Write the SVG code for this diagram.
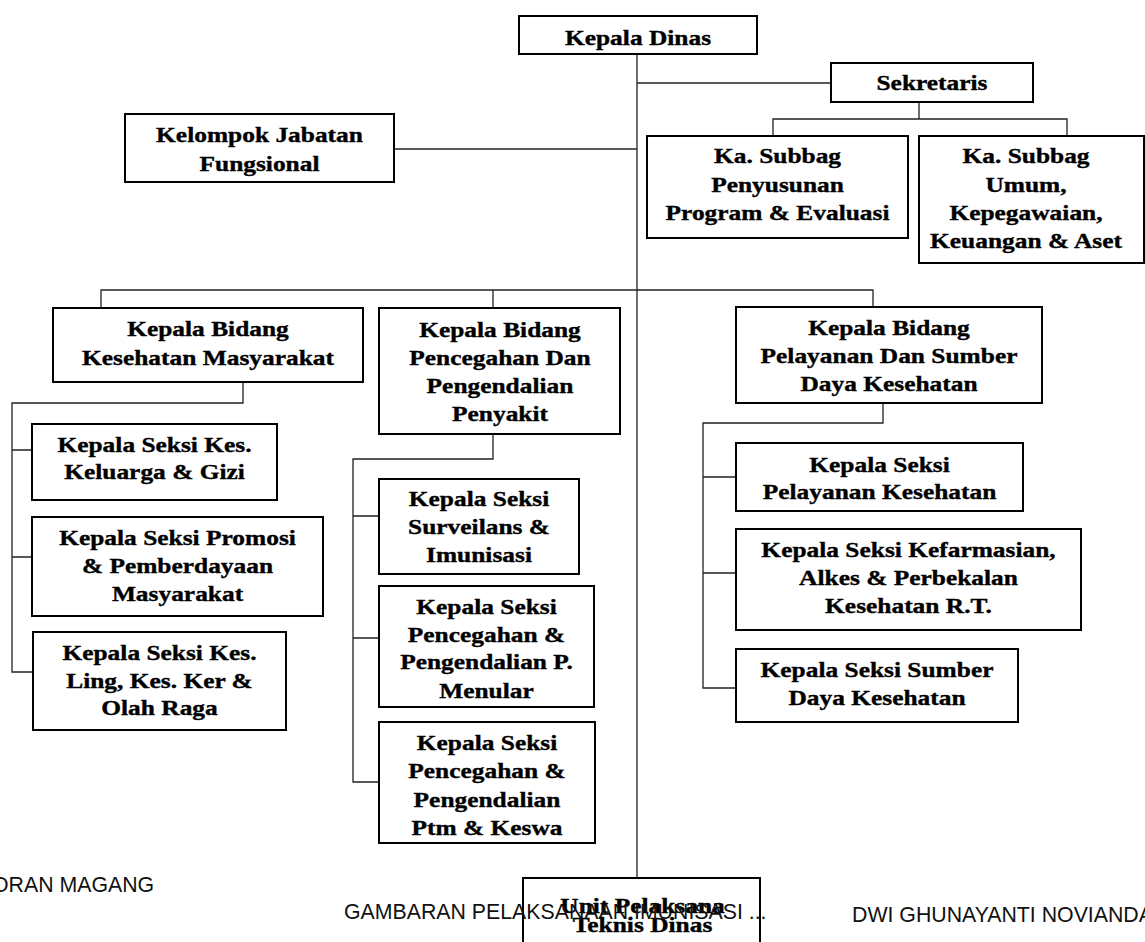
<svg xmlns="http://www.w3.org/2000/svg" width="1145" height="942" viewBox="0 0 1145 942">
<style>
.box{fill:#fff;stroke:#000;stroke-width:2}
.ln{fill:none;stroke:#222;stroke-width:1.3}
.t{font-family:"Liberation Serif","Times New Roman",serif;font-weight:bold;font-size:20.5px;fill:#000;stroke:#000;stroke-width:0.35;text-anchor:middle}
.f{font-family:"Liberation Sans",Arial,sans-serif;font-size:21.3px;fill:#111}
</style>
<rect width="1145" height="942" fill="#fff"/>
<g id="connectors">
<path class="ln" d="M637,54 V878"/>
<path class="ln" d="M637,83 H831"/>
<path class="ln" d="M919,102 V119 M773,136 V119 H1067 V136"/>
<path class="ln" d="M394,149 H637"/>
<path class="ln" d="M101,308 V290 H873 V307 M493,290 V308"/>
<path class="ln" d="M243,382 V403 H12 V672 H33 M12,450 H32 M12,557 H32"/>
<path class="ln" d="M493,434 V459 H353 V782 H379 M353,516 H379 M353,638 H382"/>
<path class="ln" d="M883,403 V423 H703 V688 H736 M703,477 H736 M703,573 H736"/>
</g>
<g id="kepala-dinas">
<rect class="box" x="519" y="16" width="238" height="38"/>
<text class="t" transform="translate(638 0) scale(1.24 1)"><tspan x="0" y="45">Kepala Dinas</tspan></text>
</g>
<g id="sekretaris">
<rect class="box" x="831" y="63" width="202" height="39"/>
<text class="t" transform="translate(932 0) scale(1.24 1)"><tspan x="0" y="90">Sekretaris</tspan></text>
</g>
<g id="kelompok-jabatan">
<rect class="box" x="125" y="114" width="269" height="68"/>
<text class="t" transform="translate(259.5 0) scale(1.24 1)"><tspan x="0" y="141.7">Kelompok Jabatan</tspan><tspan x="0" y="170.7">Fungsional</tspan></text>
</g>
<g id="subbag-penyusunan">
<rect class="box" x="647" y="136" width="261" height="102"/>
<text class="t" transform="translate(777.5 0) scale(1.24 1)"><tspan x="0" y="163.3">Ka. Subbag</tspan><tspan x="0" y="191.7">Penyusunan</tspan><tspan x="0" y="220">Program &amp; Evaluasi</tspan></text>
</g>
<g id="subbag-umum">
<rect class="box" x="919" y="136" width="225" height="127"/>
<text class="t" transform="translate(1026 0) scale(1.24 1)"><tspan x="0" y="163.3">Ka. Subbag</tspan><tspan x="0" y="191.7">Umum,</tspan><tspan x="0" y="220">Kepegawaian,</tspan><tspan x="0" y="248">Keuangan &amp; Aset</tspan></text>
</g>
<g id="bidang-kesmas">
<rect class="box" x="53" y="308" width="310" height="74"/>
<text class="t" transform="translate(208 0) scale(1.24 1)"><tspan x="0" y="336">Kepala Bidang</tspan><tspan x="0" y="365">Kesehatan Masyarakat</tspan></text>
</g>
<g id="bidang-p2p">
<rect class="box" x="379" y="308" width="241" height="126"/>
<text class="t" transform="translate(500 0) scale(1.24 1)"><tspan x="0" y="337">Kepala Bidang</tspan><tspan x="0" y="365">Pencegahan Dan</tspan><tspan x="0" y="393">Pengendalian</tspan><tspan x="0" y="421.5">Penyakit</tspan></text>
</g>
<g id="bidang-pelayanan">
<rect class="box" x="736" y="307" width="306" height="96"/>
<text class="t" transform="translate(889 0) scale(1.24 1)"><tspan x="0" y="335">Kepala Bidang</tspan><tspan x="0" y="363">Pelayanan Dan Sumber</tspan><tspan x="0" y="391">Daya Kesehatan</tspan></text>
</g>
<g id="seksi-keluarga-gizi">
<rect class="box" x="32" y="424" width="245" height="76"/>
<text class="t" transform="translate(154.5 0) scale(1.24 1)"><tspan x="0" y="451.7">Kepala Seksi Kes.</tspan><tspan x="0" y="479">Keluarga &amp; Gizi</tspan></text>
</g>
<g id="seksi-promosi">
<rect class="box" x="32" y="517" width="291" height="99"/>
<text class="t" transform="translate(177.5 0) scale(1.24 1)"><tspan x="0" y="545">Kepala Seksi Promosi</tspan><tspan x="0" y="573">&amp; Pemberdayaan</tspan><tspan x="0" y="601">Masyarakat</tspan></text>
</g>
<g id="seksi-kesling">
<rect class="box" x="33" y="632" width="253" height="98"/>
<text class="t" transform="translate(159.5 0) scale(1.24 1)"><tspan x="0" y="660">Kepala Seksi Kes.</tspan><tspan x="0" y="688">Ling, Kes. Ker &amp;</tspan><tspan x="0" y="715">Olah Raga</tspan></text>
</g>
<g id="seksi-surveilans">
<rect class="box" x="379" y="479" width="200" height="95"/>
<text class="t" transform="translate(479 0) scale(1.24 1)"><tspan x="0" y="506">Kepala Seksi</tspan><tspan x="0" y="534.5">Surveilans &amp;</tspan><tspan x="0" y="562.5">Imunisasi</tspan></text>
</g>
<g id="seksi-p2pm">
<rect class="box" x="379" y="586" width="215" height="121"/>
<text class="t" transform="translate(486.5 0) scale(1.24 1)"><tspan x="0" y="614">Kepala Seksi</tspan><tspan x="0" y="641.7">Pencegahan &amp;</tspan><tspan x="0" y="669.3">Pengendalian P.</tspan><tspan x="0" y="698">Menular</tspan></text>
</g>
<g id="seksi-ptm">
<rect class="box" x="379" y="722" width="216" height="121"/>
<text class="t" transform="translate(487 0) scale(1.24 1)"><tspan x="0" y="750">Kepala Seksi</tspan><tspan x="0" y="778.3">Pencegahan &amp;</tspan><tspan x="0" y="806.7">Pengendalian</tspan><tspan x="0" y="835">Ptm &amp; Keswa</tspan></text>
</g>
<g id="seksi-pelayanan">
<rect class="box" x="736" y="443" width="287" height="68"/>
<text class="t" transform="translate(879.5 0) scale(1.24 1)"><tspan x="0" y="471.7">Kepala Seksi</tspan><tspan x="0" y="499.3">Pelayanan Kesehatan</tspan></text>
</g>
<g id="seksi-kefarmasian">
<rect class="box" x="736" y="529" width="345" height="101"/>
<text class="t" transform="translate(908.5 0) scale(1.24 1)"><tspan x="0" y="556.7">Kepala Seksi Kefarmasian,</tspan><tspan x="0" y="585">Alkes &amp; Perbekalan</tspan><tspan x="0" y="613.3">Kesehatan R.T.</tspan></text>
</g>
<g id="seksi-sdk">
<rect class="box" x="736" y="649" width="282" height="73"/>
<text class="t" transform="translate(877 0) scale(1.24 1)"><tspan x="0" y="677.3">Kepala Seksi Sumber</tspan><tspan x="0" y="705">Daya Kesehatan</tspan></text>
</g>
<g id="upt-dinas">
<rect class="box" x="523" y="878" width="237" height="90"/>
<text class="t" transform="translate(642.5 0) scale(1.24 1)"><tspan x="0" y="913">Unit Pelaksana</tspan><tspan x="0" y="932">Teknis Dinas</tspan></text>
</g>
<g id="footer">
<text class="f" x="-8" y="892">ORAN MAGANG</text>
<text class="f" x="344" y="919">GAMBARAN PELAKSANAAN.IMUNISASI ...</text>
<text class="f" x="852" y="922">DWI GHUNAYANTI NOVIANDA</text>
</g>
</svg>
